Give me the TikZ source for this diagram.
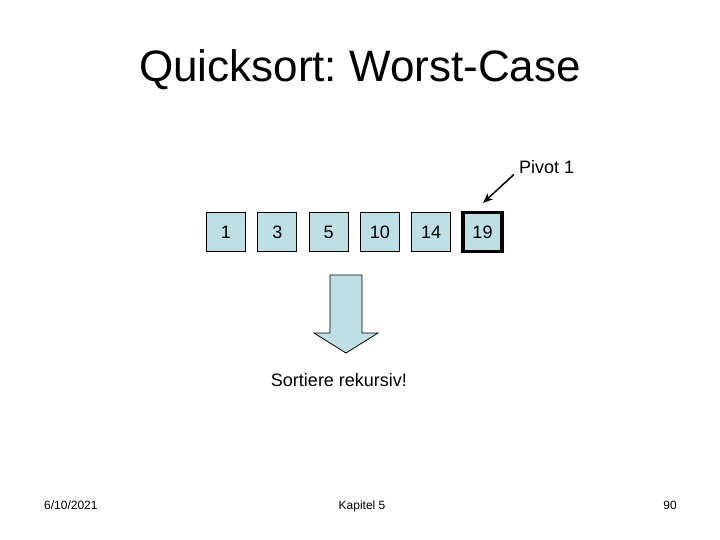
\documentclass[tikz,border=0pt]{standalone}
\usepackage{fontspec}
\setmainfont{Liberation Sans}
\usepackage{tikz}
\usetikzlibrary{arrows.meta,positioning,calc}
\definecolor{cellblue}{RGB}{190,224,228}
\frenchspacing

\begin{document}
\begin{tikzpicture}[x=1pt,y=-1pt,
    cell/.style={draw, fill=cellblue, line width=0.75pt, minimum size=39pt, inner sep=0pt, font=\fontsize{18}{21}\selectfont},
    pivotcell/.style={cell, line width=3.5pt},
    label18/.style={inner sep=0pt, font=\fontsize{18}{21}\selectfont},
    footer/.style={inner sep=0pt, font=\fontsize{12}{14}\selectfont}]
    \useasboundingbox[fill=white] (0,0) rectangle (720,540);

    % Title
    \node[inner sep=0pt, anchor=base, font=\fontsize{44}{50}\selectfont] (title) at (360,82) {Quicksort: Worst-Case};

    % Array cells
    \foreach \v [count=\i] in {1,3,5,10,14} {
        \node[cell] (c\i) at ({226+51.3*(\i-1)},232) {\v};
    }
    \node[pivotcell] (c6) at (482.5,232) {19};

    % Pivot label and arrow
    \node[label18, anchor=base west] (pivot) at (519,174) {Pivot 1};
    \coordinate (ptip) at (483,203);
    \draw[line width=1.5pt, -{Stealth[length=10pt,width=8pt]}] ([xshift=-5pt]pivot.south west) -- (ptip);

    % Block arrow
    \draw[fill=cellblue, line width=0.75pt] (330,275) -- (362,275) -- (362,333) -- (378,333)
        -- (346,353) -- (314,333) -- (330,333) -- cycle;
    \node[label18, anchor=base] (rec) at (339,386) {Sortiere rekursiv!};

    % Footer
    \node[footer, anchor=base west] (date) at (44,509) {6/10/2021};
    \node[footer, anchor=base] (chapter) at (362,509) {Kapitel 5};
    \node[footer, anchor=base east] (page) at (677,509) {90};
\end{tikzpicture}
\end{document}
